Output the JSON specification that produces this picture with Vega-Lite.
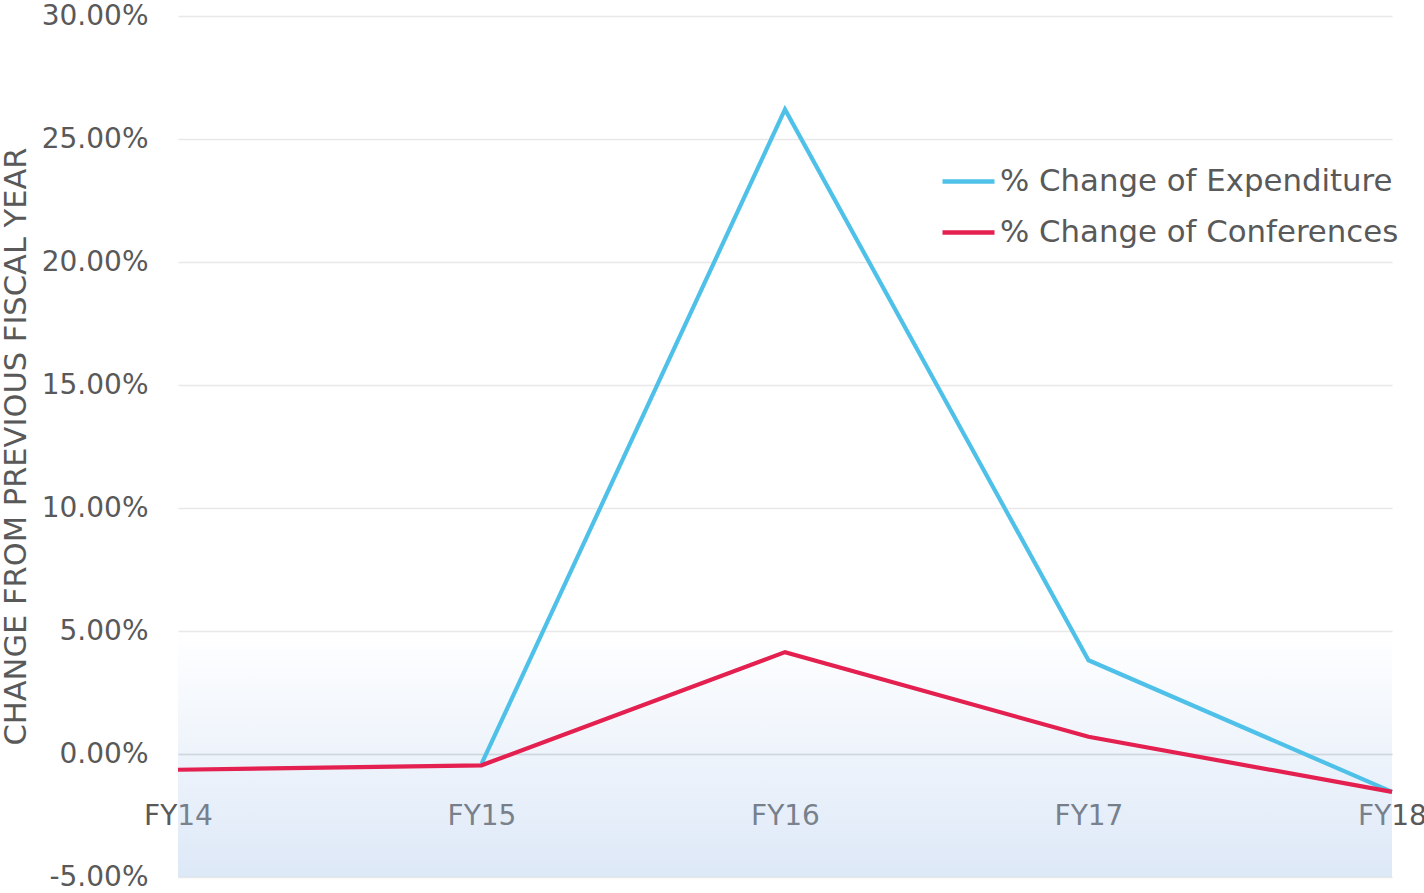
{
  "$schema": "https://vega.github.io/schema/vega-lite/v6.json",
  "width": 1214,
  "height": 861,
  "autosize": {"type": "none"},
  "padding": {"left": 178, "top": 16, "right": 32, "bottom": 16},
  "background": "#ffffff",
  "config": {
    "view": {"stroke": null},
    "font": "DejaVu Sans",
    "axis": {"labelFont": "DejaVu Sans", "titleFont": "DejaVu Sans", "labelColor": "#595959", "titleColor": "#595959"},
    "legend": {"labelFont": "DejaVu Sans", "labelColor": "#595959"}
  },
  "layer": [
    {
      "data": {"values": [{"band": "lower"}]},
      "mark": {
        "type": "rect",
        "fill": {
          "gradient": "linear",
          "x1": 0, "y1": 0, "x2": 0, "y2": 1,
          "stops": [
            {"offset": 0, "color": "rgba(180,205,238,0)"},
            {"offset": 1, "color": "rgba(180,205,238,0.45)"}
          ]
        }
      },
      "encoding": {
        "y": {"datum": 5, "type": "quantitative", "scale": {"domain": [-5, 30]}},
        "y2": {"datum": -5}
      }
    },
    {
      "data": {
        "values": [
          {"year": "FY15", "series": "% Change of Expenditure", "value": -0.4},
          {"year": "FY16", "series": "% Change of Expenditure", "value": 26.2},
          {"year": "FY17", "series": "% Change of Expenditure", "value": 3.81},
          {"year": "FY18", "series": "% Change of Expenditure", "value": -1.54},
          {"year": "FY14", "series": "% Change of Conferences", "value": -0.64},
          {"year": "FY15", "series": "% Change of Conferences", "value": -0.46},
          {"year": "FY16", "series": "% Change of Conferences", "value": 4.14},
          {"year": "FY17", "series": "% Change of Conferences", "value": 0.7},
          {"year": "FY18", "series": "% Change of Conferences", "value": -1.54}
        ]
      },
      "mark": {"type": "line", "strokeWidth": 4.2, "strokeJoin": "miter"},
      "encoding": {
        "x": {
          "field": "year",
          "type": "ordinal",
          "scale": {"type": "point", "padding": 0, "domain": ["FY14", "FY15", "FY16", "FY17", "FY18"]},
          "axis": {
            "title": null,
            "offset": -123,
            "domainColor": "#d9d9d9",
            "domainWidth": 1.5,
            "ticks": false,
            "grid": false,
            "labelAngle": 0,
            "labelFontSize": 28,
            "labelBaseline": "middle",
            "labelPadding": 62,
            "labelFlush": false,
            "labelOverlap": false,
            "labelBound": false
          }
        },
        "y": {
          "field": "value",
          "type": "quantitative",
          "scale": {"domain": [-5, 30], "nice": false},
          "axis": {
            "title": "CHANGE FROM PREVIOUS FISCAL YEAR",
            "values": [-5, 0, 5, 10, 15, 20, 25, 30],
            "labelExpr": "datum.value < 0 ? '-' + format(-datum.value, '.2f') + '%' : format(datum.value, '.2f') + '%'",
            "domain": false,
            "ticks": false,
            "grid": true,
            "gridColor": "#e8e8e8",
            "gridWidth": 1.5,
            "labelFontSize": 28,
            "labelPadding": 30,
            "labelBaseline": "middle",
            "titleFontSize": 30.5,
            "titleFontWeight": "normal",
            "titleAngle": -90,
            "titleAnchor": "middle",
            "titleBaseline": "middle",
            "titleX": -162,
            "titleY": 430
          }
        },
        "color": {
          "field": "series",
          "type": "nominal",
          "sort": ["% Change of Expenditure", "% Change of Conferences"],
          "scale": {"domain": ["% Change of Expenditure", "% Change of Conferences"], "range": ["#4fc1e9", "#e3204f"]},
          "legend": {
            "title": null,
            "orient": "none",
            "legendX": 762,
            "legendY": 137,
            "symbolType": "stroke",
            "symbolSize": 2704,
            "symbolStrokeWidth": 4.5,
            "labelFontSize": 30.8,
            "labelOffset": 3,
            "labelLimit": 600,
            "rowPadding": 7
          }
        }
      }
    }
  ]
}
